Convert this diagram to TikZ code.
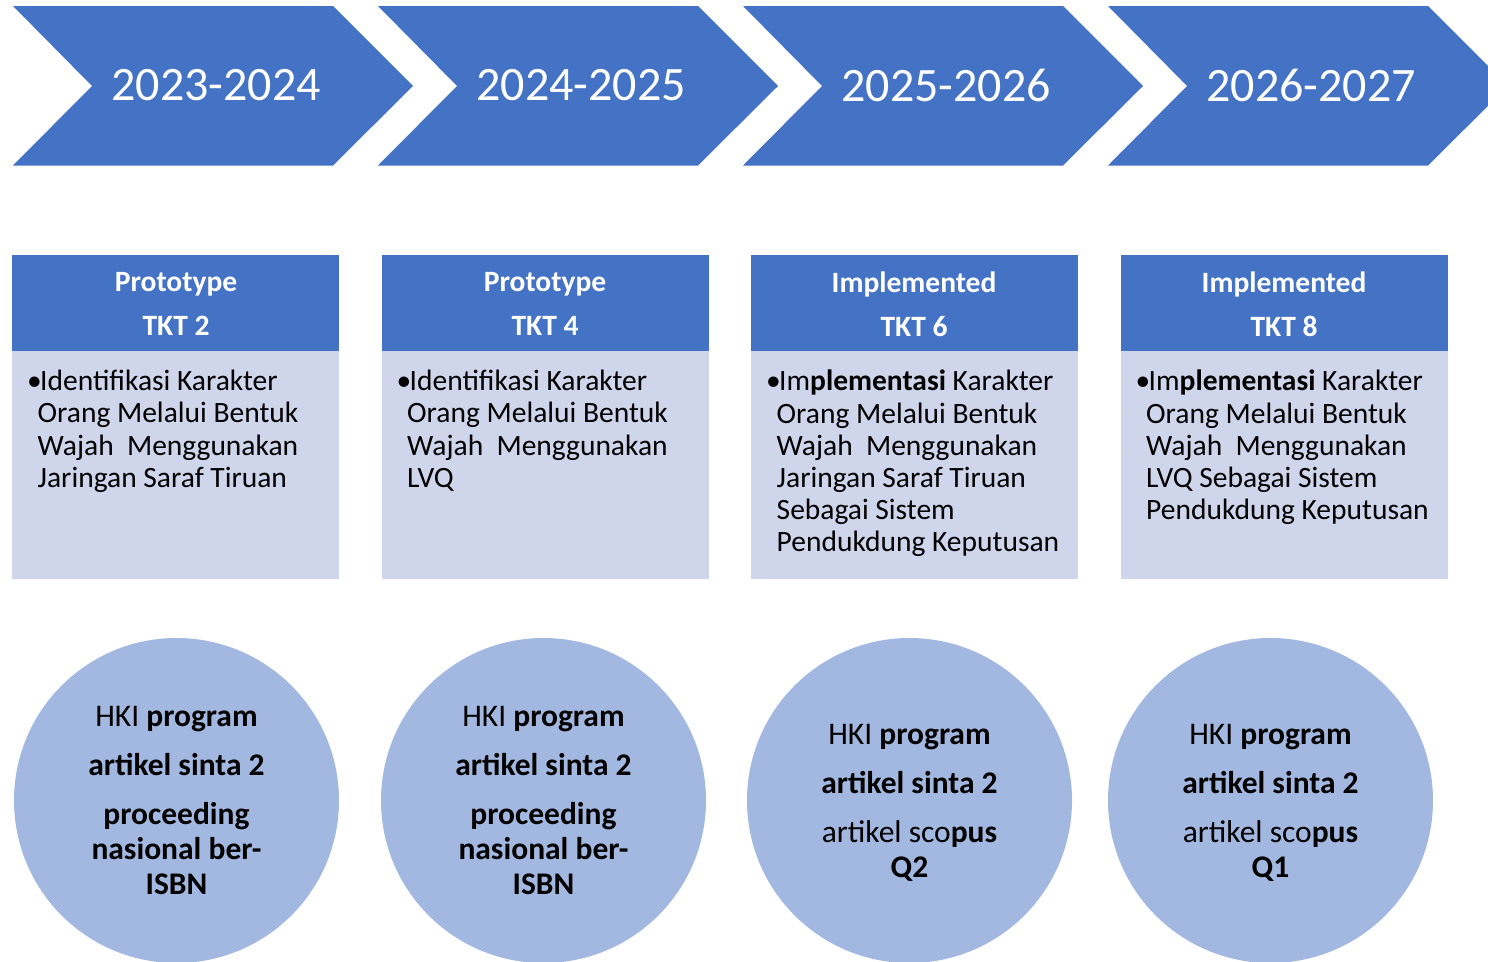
\documentclass[tikz,border=0pt]{standalone}
\usepackage{fontspec}
\setmainfont{Carlito}
\definecolor{accent}{HTML}{4472C4}
\definecolor{bodyfill}{HTML}{CFD5EA}
\definecolor{circfill}{HTML}{A2B8E0}
\tikzset{
  chev/.style={fill=accent},
  yeartext/.style={text=white,font=\fontsize{48}{58}\selectfont,inner sep=0pt},
  headbox/.style={fill=accent,draw=none},
  headtext/.style={text=white,font=\fontsize{29.5}{44}\selectfont\bfseries,align=center,inner sep=0pt},
  bodybox/.style={fill=bodyfill,draw=none},
  bodytext/.style={text=black,font=\fontsize{29.5}{32.2}\selectfont,align=left,inner sep=0pt,anchor=north west},
  circ/.style={circle,fill=circfill,minimum size=325pt,inner sep=0pt},
  circtext/.style={text=black,font=\fontsize{31.5}{35}\selectfont,align=center,inner sep=0pt},
}
\newcommand{\ind}{\hspace*{10.5pt}}
\begin{document}
\begin{tikzpicture}[x=1pt,y=-1pt]
\useasboundingbox (0,0) rectangle (1488,961);
\clip (0,0) rectangle (1488,961);
% chevrons
\foreach \i/\yr in {0/2023-2024,1/2024-2025,2/2025-2026,3/2026-2027}{
  \pgfmathsetmacro{\xo}{13+365*\i}
  \fill[chev] (\xo,6) -- (\xo+320,6) -- (\xo+400,86) -- (\xo+320,165.5) -- (\xo,165.5) -- (\xo+79,86) -- cycle;
  \node[yeartext] (year\i) at (\xo+203,85) {\yr};
}
% boxes
\foreach \i/\xo in {0/12,1/381.5,2/751,3/1120.5}{
  \fill[headbox] (\xo,255) rectangle (\xo+327,351);
  \fill[bodybox] (\xo,351) rectangle (\xo+327,578.5);
}
\node[headtext] (h0) at (176,304) {Prototype\\TKT 2};
\node[headtext] (h1) at (545,304) {Prototype\\TKT 4};
\node[headtext] (h2) at (914,304) {Implemented\\TKT 6};
\node[headtext] (h3) at (1284,304) {Implemented\\TKT 8};
\node[bodytext] (b0) at (27,370) {\makebox[13pt][l]{•}Identifikasi Karakter\\\ind Orang Melalui Bentuk\\\ind Wajah~~Menggunakan\\\ind Jaringan Saraf Tiruan};
\node[bodytext] (b1) at (396.5,370) {\makebox[13pt][l]{•}Identifikasi Karakter\\\ind Orang Melalui Bentuk\\\ind Wajah~~Menggunakan\\\ind LVQ};
\node[bodytext] (b2) at (766,370) {\makebox[13pt][l]{•}Im\textbf{plementasi} Karakter\\\ind Orang Melalui Bentuk\\\ind Wajah~~Menggunakan\\\ind Jaringan Saraf Tiruan\\\ind Sebagai Sistem\\\ind Pendukdung Keputusan};
\node[bodytext] (b3) at (1135.5,370) {\makebox[13pt][l]{•}Im\textbf{plementasi} Karakter\\\ind Orang Melalui Bentuk\\\ind Wajah~~Menggunakan\\\ind LVQ Sebagai Sistem\\\ind Pendukdung Keputusan};
% circles
\node[circ] (c0) at (176.5,800.5) {};
\node[circ] (c1) at (543.5,800.5) {};
\node[circ] (c2) at (909.5,800.5) {};
\node[circ] (c3) at (1270.5,800.5) {};
\node[circtext] (t0) at (c0) {HKI \textbf{program}\\[14pt]\textbf{artikel sinta 2}\\[14pt]\textbf{proceeding}\\\textbf{nasional ber-}\\\textbf{ISBN}};
\node[circtext] (t1) at (c1) {HKI \textbf{program}\\[14pt]\textbf{artikel sinta 2}\\[14pt]\textbf{proceeding}\\\textbf{nasional ber-}\\\textbf{ISBN}};
\node[circtext] (t2) at ([yshift=-2pt]c2) {HKI \textbf{program}\\[14pt]\textbf{artikel sinta 2}\\[14pt]artikel sco\textbf{pus}\\\textbf{Q2}};
\node[circtext] (t3) at ([yshift=-2pt]c3) {HKI \textbf{program}\\[14pt]\textbf{artikel sinta 2}\\[14pt]artikel sco\textbf{pus}\\\textbf{Q1}};
\end{tikzpicture}
\end{document}
